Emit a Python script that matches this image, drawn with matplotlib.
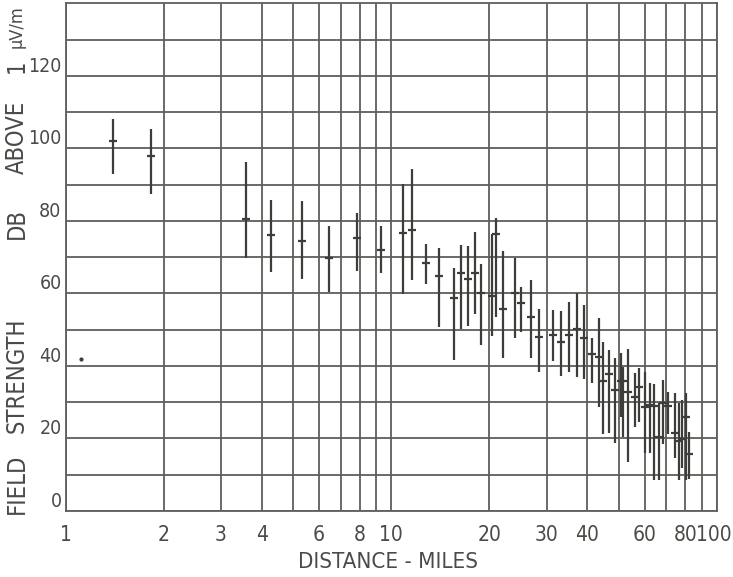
import matplotlib
matplotlib.use('Agg')
import matplotlib.pyplot as plt
import matplotlib.transforms as mtransforms
from matplotlib.ticker import FixedLocator, FixedFormatter, NullFormatter

# ---- data (distance in miles, field strength in dB above 1 uV/m)
distance = [1.40, 1.83, 3.59, 4.28, 5.32, 6.43, 7.86, 9.31, 10.9, 11.6,
            12.8, 14.0, 15.55, 16.4, 17.2, 18.05, 18.9, 20.4, 21.0, 22.0,
            24.0, 25.1, 26.8, 28.5, 31.4, 33.3, 35.2, 37.1, 39.1, 41.5,
            43.4, 44.6, 46.7, 48.6, 50.8, 51.6, 53.5, 56.1, 57.8, 60.1,
            62.4, 64.1, 66.3, 68.2, 71.0, 74.4, 76.5, 78.3, 80.3, 82.0]
median = [102.0, 97.8, 80.4, 76.2, 74.5, 69.7, 75.3, 72.1, 76.7, 77.4,
          68.4, 64.8, 58.6, 65.6, 64.0, 65.6, 60.0, 59.3, 76.5, 55.8,
          60.0, 57.4, 53.5, 48.0, 48.5, 46.5, 48.5, 50.3, 47.8, 43.3,
          42.5, 35.9, 37.9, 33.5, 35.9, 35.9, 32.9, 31.5, 34.1, 28.7,
          29.2, 28.9, 20.5, 29.8, 28.9, 21.6, 19.4, 19.8, 26.0, 15.7]
low = [93.0, 87.3, 69.9, 65.8, 64.1, 60.4, 66.2, 65.6, 59.7, 63.6,
       62.5, 50.8, 41.6, 50.3, 51.0, 54.3, 45.7, 48.2, 53.5, 42.1,
       47.6, 49.4, 42.1, 38.4, 41.4, 37.2, 38.4, 37.0, 36.5, 35.2,
       28.7, 21.2, 21.4, 18.8, 26.0, 20.5, 13.6, 23.2, 24.6, 15.9,
       15.9, 8.5, 8.5, 18.6, 21.2, 14.5, 8.5, 11.8, 8.5, 8.7]
high = [108.2, 105.2, 96.2, 85.7, 85.5, 78.5, 82.2, 78.5, 90.1, 94.4,
        73.6, 72.4, 67.1, 73.3, 73.0, 76.9, 68.2, 76.5, 80.8, 71.7,
        69.9, 61.8, 63.6, 55.8, 55.4, 55.2, 57.7, 60.1, 56.7, 47.6,
        53.1, 46.6, 44.5, 42.3, 43.6, 39.8, 44.8, 38.1, 39.3, 38.4,
        35.2, 35.0, 29.7, 36.1, 32.9, 32.4, 29.7, 30.6, 32.6, 21.8]
stray_x = [1.115]
stray_y = [41.8]

x_ticks = [1, 2, 3, 4, 6, 8, 10, 20, 30, 40, 60, 80, 100]
x_ticklabels = ['1', '2', '3', '4', '6', '8', '10', '20', '30', '40', '60', '80', '100']
x_minor = [5, 7, 9, 50, 70, 90]
y_ticks = [0, 20, 40, 60, 80, 100, 120]
y_ticklabels = ['0', '20', '40', '60', '80', '100', '120']
y_minor = [10, 30, 50, 70, 90, 110, 130]

ink = '#3d3d39'
grid_ink = '#5e5e5a'
text_ink = '#4a4a46'
font = dict(family='DejaVu Sans', stretch='condensed', color=text_ink)

fig = plt.figure(figsize=(7.33, 5.77), dpi=100)
fig.patch.set_facecolor('white')
ax = fig.add_axes([0.0896, 0.1144, 0.8882, 0.8799])
ax.set_xscale('log')
ax.set_xlim(1, 100)
ax.set_ylim(0, 140)

ax.xaxis.set_major_locator(FixedLocator(x_ticks))
ax.xaxis.set_major_formatter(FixedFormatter(x_ticklabels))
ax.xaxis.set_minor_locator(FixedLocator(x_minor))
ax.xaxis.set_minor_formatter(NullFormatter())
ax.yaxis.set_major_locator(FixedLocator(y_ticks))
ax.yaxis.set_major_formatter(FixedFormatter(y_ticklabels))
ax.yaxis.set_minor_locator(FixedLocator(y_minor))
ax.yaxis.set_minor_formatter(NullFormatter())
ax.tick_params(which='both', length=0)
ax.tick_params(axis='x', pad=10, labelsize=15, labelcolor=text_ink)
ax.tick_params(axis='y', pad=3, labelsize=14, labelcolor=text_ink)

fig.canvas.draw()
for lab in ax.get_yticklabels():
    lab.set_verticalalignment('bottom')
    lab.set_fontstretch('condensed')
xlabs = ax.get_xticklabels()
for lab in xlabs:
    lab.set_fontstretch('condensed')
shift = mtransforms.ScaledTranslation(-3 / 100.0, 0, fig.dpi_scale_trans)
xlabs[-1].set_transform(xlabs[-1].get_transform() + shift)

ax.grid(which='both', color=grid_ink, linewidth=1.3)
ax.set_axisbelow(True)
for s in ax.spines.values():
    s.set_color(grid_ink)
    s.set_linewidth(1.3)

ax.vlines(distance, low, high, color=ink, linewidth=1.6, zorder=3)
ax.plot(distance, median, linestyle='none', marker='_', markersize=6,
        markeredgewidth=1.6, color=ink, zorder=4)
ax.plot(stray_x, stray_y, linestyle='none', marker='o', markersize=2,
        color=ink, zorder=4)

W, H = 733.0, 577.0
def ftext(px, py, s, **kw):
    fig.text(px / W, 1 - py / H, s, **kw)

ylab_kw = dict(rotation=90, ha='center', va='center', fontsize=17, **font)
ftext(17, 484, 'FIELD', **ylab_kw)
ftext(17, 375, 'STRENGTH', **ylab_kw)
ftext(17, 223, 'DB', **ylab_kw)
ftext(17, 137, 'ABOVE', **ylab_kw)
ftext(17, 66, '1', **ylab_kw)
ftext(17, 27, 'μV/m', **dict(ylab_kw, fontsize=13))

ftext(388, 562, 'DISTANCE - MILES', ha='center', va='center', fontsize=16, **font)

fig.savefig('out.png', dpi=100, facecolor='white')
